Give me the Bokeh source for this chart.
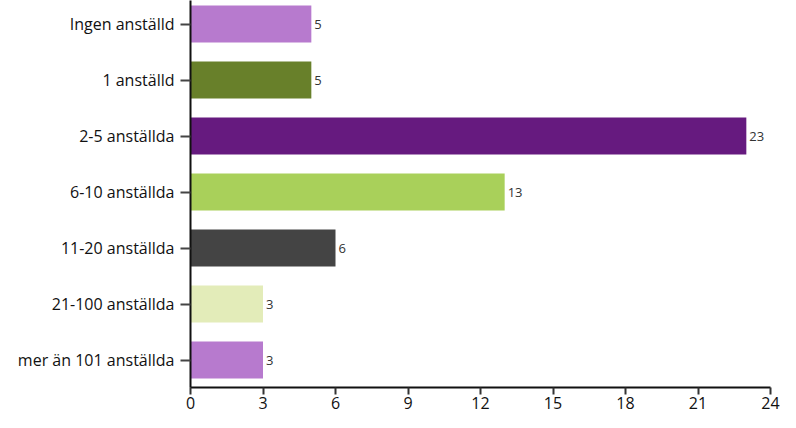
from bokeh.plotting import figure
from bokeh.models import ColumnDataSource, Range1d, FixedTicker, LabelSet
from bokeh.core.properties import value
from bokeh.embed import file_html
from bokeh.resources import INLINE

categories = ["Ingen anställd", "1 anställd", "2-5 anställda", "6-10 anställda",
              "11-20 anställda", "21-100 anställda", "mer än 101 anställda"]
values = [5, 5, 23, 13, 6, 3, 3]
colors = ["#b77ace", "#68802a", "#661a7f", "#a9d05a", "#444444", "#e3ecb9", "#b77ace"]
x_ticks = [0, 3, 6, 9, 12, 15, 18, 21, 24]

FONT = "Open Sans"
ys = list(range(len(categories)))

src = ColumnDataSource(dict(y=ys, v=values, c=colors, t=[str(v) for v in values]))

p = figure(width=780, height=412, output_backend="svg", toolbar_location=None,
           x_range=Range1d(0, 24), y_range=Range1d(6.49, -0.42),
           min_border_left=190, min_border_right=10, min_border_top=0, min_border_bottom=25)
p.outline_line_color = None
p.xgrid.visible = False
p.ygrid.visible = False
p.background_fill_color = "white"
p.border_fill_color = "white"

p.hbar(y="y", right="v", left=0, height=0.66, fill_color="c", line_color=None, source=src)

labels = LabelSet(x="v", y="y", text="t", source=src, x_offset=3, text_baseline="middle",
                  text_font=value(FONT), text_font_size="13px", text_color="#333333")
p.add_layout(labels)

xa = p.xaxis[0]
xa.ticker = FixedTicker(ticks=x_ticks)
xa.axis_line_width = 2
xa.axis_line_color = "#111111"
xa.major_tick_out = 7
xa.major_tick_in = 0
xa.major_tick_line_width = 2
xa.major_tick_line_color = "#333333"
xa.minor_tick_line_color = None
xa.major_label_text_font = FONT
xa.major_label_text_font_size = "16px"
xa.major_label_text_color = "#111111"
xa.major_label_standoff = 2

ya = p.yaxis[0]
ya.ticker = FixedTicker(ticks=ys)
ya.major_label_overrides = {i: c for i, c in zip(ys, categories)}
ya.axis_line_width = 2
ya.axis_line_color = "#111111"
ya.major_tick_out = 10
ya.major_tick_in = 0
ya.major_tick_line_width = 2
ya.major_tick_line_color = "#444444"
ya.minor_tick_line_color = None
ya.major_label_text_font = FONT
ya.major_label_text_font_size = "16px"
ya.major_label_text_color = "#111111"
ya.major_label_standoff = 6

open("out.html", "w").write(file_html(p, INLINE))
